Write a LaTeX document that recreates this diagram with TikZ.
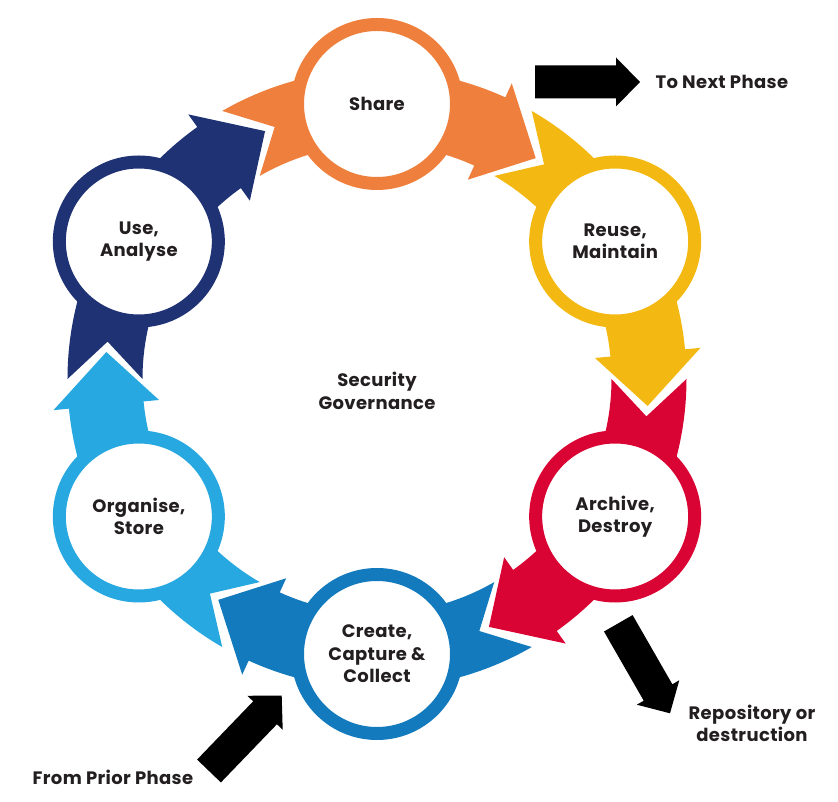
\documentclass[tikz,border=0pt]{standalone}
\usepackage{fontspec}
\setmainfont{Poppins}[LetterSpace=2]
\usepackage{tikz}
\usetikzlibrary{calc,positioning}

\definecolor{shareorange}{RGB}{238,127,60}
\definecolor{reuseyellow}{RGB}{243,185,18}
\definecolor{archivered}{RGB}{218,4,52}
\definecolor{createblue}{RGB}{18,122,189}
\definecolor{organiseblue}{RGB}{40,168,224}
\definecolor{usenavy}{RGB}{31,50,116}
\definecolor{labelgray}{RGB}{35,31,32}

\newcommand{\labelfont}{\fontsize{18}{22.5}\selectfont\bfseries}

\tikzset{
  stage/.style={circle, draw=#1, fill=white, line width=13pt, minimum size=159pt,
    inner sep=0pt, align=center, font=\labelfont, text=labelgray},
  lbl/.style={font=\labelfont, text=labelgray, align=center},
}

% black block arrow from #1 to #2
\newcommand{\blockarrow}[2]{%
  \coordinate (ba-h) at ($(#2)!24pt!(#1)$);
  \fill[black] ($(#1)!16.5pt!90:(#2)$) -- ($(ba-h)!16.5pt!90:(#2)$)
    -- ($(ba-h)!24.5pt!90:(#2)$) -- (#2) -- ($(ba-h)!24.5pt!-90:(#2)$)
    -- ($(ba-h)!16.5pt!-90:(#2)$) -- ($(#1)!16.5pt!-90:(#2)$) -- cycle;
}

\begin{document}
\begin{tikzpicture}[x=1pt, y=1pt]
    \useasboundingbox (-377,-423) rectangle (461,379);

    % Cycle arrows
    \foreach \ang/\col in {90/shareorange, 30/reuseyellow, -30/archivered,
                           -90/createblue, -150/organiseblue, 150/usenavy} {
      \fill[\col] (\ang+30:234.5) -- (\ang+22.1:272) -- (\ang+30:309.5)
        arc[start angle=\ang+30, end angle=\ang-24.5, radius=309.5]
        -- (\ang-24.5:325) -- (\ang-35.7:272) -- (\ang-24.5:219)
        -- (\ang-24.5:234.5)
        arc[start angle=\ang-24.5, end angle=\ang+30, radius=234.5] -- cycle;
    }

    % Stages
    \node[stage=shareorange] (share) at (90:275) {Share};
    \node[stage=reuseyellow] (reuse) at (30:275) {Reuse,\\Maintain};
    \node[stage=archivered] (archive) at (-30:275) {Archive,\\Destroy};
    \node[stage=createblue] (create) at (-90:275) {Create,\\Capture \&\\Collect};
    \node[stage=organiseblue] (organise) at (-150:275) {Organise,\\Store};
    \node[stage=usenavy] (use) at (150:275) {Use,\\Analyse};

    \node[lbl] (governance) at (0,-12) {Security\\Governance};

    % Phase arrows
    \node[lbl, anchor=west] (nextphase) at (275,297) {To Next Phase};
    \coordinate (next-tip) at ([xshift=-12pt]nextphase.west);
    \coordinate (next-tail) at ([xshift=-117pt]nextphase.west);
    \blockarrow{next-tail}{next-tip}

    \node[lbl] (repository) at (375,-344.5) {Repository or\\destruction};
    \coordinate (repo-tail) at (241.3,-244.3);
    \coordinate (repo-tip) at (293,-334.3);
    \blockarrow{repo-tail}{repo-tip}

    \node[lbl] (priorphase) at (-264,-398) {From Prior Phase};
    \coordinate (prior-tail) at (-168,-392);
    \coordinate (prior-tip) at (-95.3,-316.5);
    \blockarrow{prior-tail}{prior-tip}
\end{tikzpicture}
\end{document}
